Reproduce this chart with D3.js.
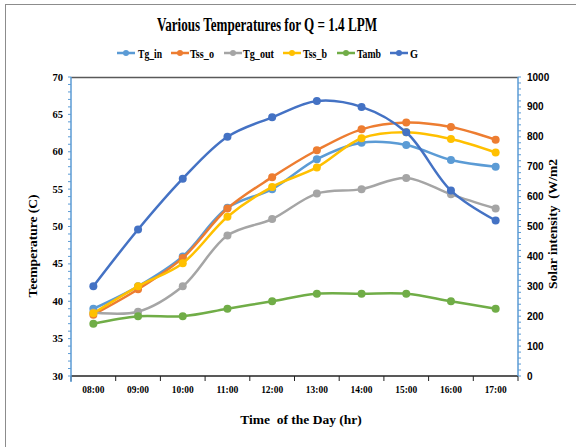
<!DOCTYPE html>
<html><head><meta charset="utf-8">
<script src="https://cdn.jsdelivr.net/npm/d3@7"></script>
<style>body{margin:0;background:#fff}svg{display:block}</style>
</head><body>
<svg id="c" width="576" height="447"></svg>
<script>
const categories = ["08:00","09:00","10:00","11:00","12:00","13:00","14:00","15:00","16:00","17:00"];
const tgIn  = [39, 42, 46, 52.5, 55, 59, 61.2, 60.9, 58.9, 58];
const tssO  = [38.2, 41.6, 45.8, 52.4, 56.6, 60.2, 63, 63.9, 63.3, 61.6];
const tgOut = [38.5, 38.6, 42, 48.8, 51, 54.4, 55, 56.5, 54.3, 52.4];
const tssB  = [38.4, 42, 45.1, 51.3, 55.3, 57.9, 61.8, 62.6, 61.7, 59.9];
const tAmb  = [37, 38, 38, 39, 40, 41, 41, 41, 40, 39];
const gSolar = [300, 490, 660, 800, 865, 920, 900, 815, 620, 520];
const leftTicks = [30,35,40,45,50,55,60,65,70];
const rightTicks = [0,100,200,300,400,500,600,700,800,900,1000];

const series = [
  {name:"Tg_in", values:tgIn, color:"#5B9BD5", axis:"L"},
  {name:"Tss_o", values:tssO, color:"#ED7D31", axis:"L"},
  {name:"Tg_out", values:tgOut, color:"#A5A5A5", axis:"L"},
  {name:"Tss_b", values:tssB, color:"#FFC000", axis:"L"},
  {name:"Tamb", values:tAmb, color:"#70AD47", axis:"L"},
  {name:"G", values:gSolar, color:"#4472C4", axis:"R"}
];

const svg = d3.select("#c");
const L = 71, R = 518, T = 77, B = 376;
const serif = "'Liberation Serif','Times New Roman',serif";
const sans = "'Liberation Sans',Arial,sans-serif";

svg.append("rect").attr("x",5.5).attr("y",4.5).attr("width",600).attr("height",500)
  .attr("fill","none").attr("stroke","#8c8c8c").attr("stroke-width",1);

const x = d3.scaleBand().domain(categories).range([L,R]);
const yL = d3.scaleLinear().domain([30,70]).range([B,T]);
const yR = d3.scaleLinear().domain([0,1000]).range([B,T]);

// title
svg.append("text").attr("x",267).attr("y",31).attr("text-anchor","middle")
  .attr("font-family",serif).attr("font-weight","bold").attr("font-size",18.5)
  .attr("textLength",220).attr("lengthAdjust","spacingAndGlyphs")
  .text("Various Temperatures for Q = 1.4 LPM");

// legend
const legendPos = [[117,138,24],[171,190,24],[224,243,31],[283,303,24],[337,357,24],[390,410,8]];
series.forEach((s,i)=>{
  const [lx,tx,tw] = legendPos[i];
  const g = svg.append("g");
  g.append("line").attr("x1",lx).attr("x2",lx+18).attr("y1",53).attr("y2",53)
    .attr("stroke",s.color).attr("stroke-width",2.5);
  g.append("circle").attr("cx",lx+9).attr("cy",53).attr("r",3).attr("fill",s.color);
  g.append("text").attr("x",tx).attr("y",57.5).attr("font-family",serif).attr("font-weight","bold")
    .attr("font-size",13.5).attr("textLength",tw).attr("lengthAdjust","spacingAndGlyphs").text(s.name);
});

// top border of plot
svg.append("line").attr("x1",L).attr("x2",R).attr("y1",T+0.5).attr("y2",T+0.5)
  .attr("stroke","#595959").attr("stroke-width",1.5);

// bottom axis
const xAxis = svg.append("g").attr("transform",`translate(0,${B})`);
xAxis.append("line").attr("x1",L).attr("x2",R).attr("stroke","#222").attr("stroke-width",1.5);
const bounds = d3.range(categories.length+1).map(i=>L + i*x.step());
xAxis.selectAll("line.tk").data(bounds).enter().append("line").attr("class","tk")
  .attr("x1",d=>d).attr("x2",d=>d).attr("y1",0).attr("y2",5).attr("stroke","#222");
xAxis.selectAll("text").data(categories).enter().append("text")
  .attr("x",d=>x(d)+x.bandwidth()/2).attr("y",17).attr("text-anchor","middle")
  .attr("font-family",serif).attr("font-weight","bold").attr("font-size",10.5)
  .attr("textLength",22).attr("lengthAdjust","spacingAndGlyphs").text(d=>d);

// left axis
const lAx = svg.append("g").attr("transform",`translate(${L},0)`);
lAx.append("line").attr("y1",T).attr("y2",B+6).attr("stroke","#5B9BD5").attr("stroke-width",1.5);
lAx.selectAll("line.mn").data(d3.range(30,71,1)).enter().append("line").attr("class","mn")
  .attr("x1",-3).attr("x2",0).attr("y1",d=>yL(d)).attr("y2",d=>yL(d)).attr("stroke","#5B9BD5");
lAx.selectAll("text").data(leftTicks).enter().append("text")
  .attr("x",-8).attr("y",d=>yL(d)+3.5).attr("text-anchor","end")
  .attr("font-family",serif).attr("font-weight","bold").attr("font-size",10.5).text(d=>d);

// right axis
const rAx = svg.append("g").attr("transform",`translate(${R},0)`);
rAx.append("line").attr("y1",T).attr("y2",B).attr("stroke","#5B9BD5").attr("stroke-width",1.5);
rAx.selectAll("line.mn").data(d3.range(0,1001,20)).enter().append("line").attr("class","mn")
  .attr("x1",0).attr("x2",3).attr("y1",d=>yR(d)).attr("y2",d=>yR(d)).attr("stroke","#5B9BD5");
rAx.selectAll("text").data(rightTicks).enter().append("text")
  .attr("x",9).attr("y",d=>yR(d)+3.5).attr("text-anchor","start")
  .attr("font-family",sans).attr("font-weight","bold").attr("font-size",10).text(d=>d);

// axis titles
svg.append("text").attr("transform","translate(37,246) rotate(-90)").attr("text-anchor","middle")
  .attr("font-family",serif).attr("font-weight","bold").attr("font-size",13.5).text("Teemperature (C)");
svg.append("text").attr("transform","translate(557,224) rotate(-90)").attr("text-anchor","middle")
  .attr("font-family",serif).attr("font-weight","bold").attr("font-size",13.5)
  .attr("xml:space","preserve").text("Solar intensity  (W/m2");
svg.append("text").attr("x",301).attr("y",424).attr("text-anchor","middle")
  .attr("font-family",serif).attr("font-weight","bold").attr("font-size",13.5)
  .attr("xml:space","preserve").text("Time  of the Day (hr)");

// series
const cx = d => x(d)+x.bandwidth()/2;
series.forEach(s=>{
  const ys = s.axis==="L" ? yL : yR;
  const pts = categories.map((c,i)=>[cx(c), ys(s.values[i])]);
  const line = d3.line().curve(d3.curveCatmullRom.alpha(0.5));
  const g = svg.append("g");
  g.append("path").attr("d",line(pts)).attr("fill","none").attr("stroke",s.color)
    .attr("stroke-width",2.5).attr("stroke-linejoin","round");
  g.selectAll("circle").data(pts).enter().append("circle")
    .attr("cx",d=>d[0]).attr("cy",d=>d[1]).attr("r",4).attr("fill",s.color);
});
</script>
</body></html>
